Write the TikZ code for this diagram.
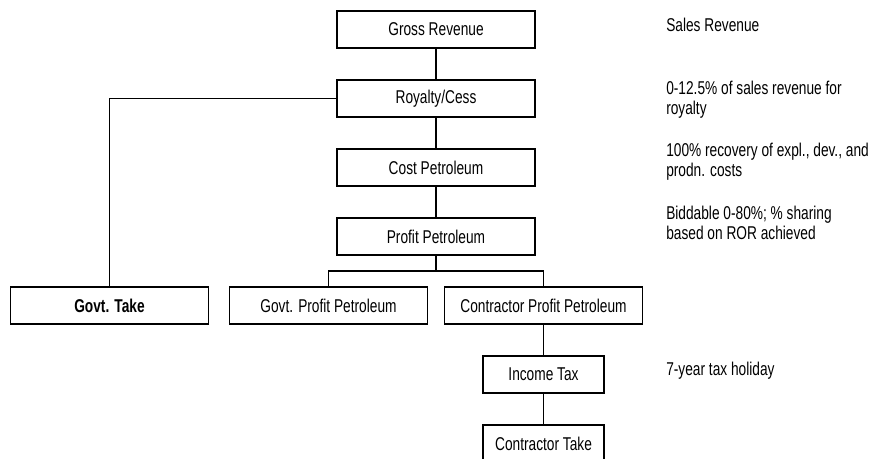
\documentclass[tikz,border=0pt]{standalone}
\usepackage{fontspec}
\setmainfont{Liberation Sans}[FakeStretch=0.74]
\tikzset{
  box/.style = {draw, line width = 1.1pt, minimum width = 148.5pt, minimum height = 27.75pt, inner sep = 0pt},
  smallbox/.style = {box, minimum width = 90.75pt},
  link/.style = {line width = .9pt},
  note/.style = {anchor = base west, align = left, inner sep = 0pt}
}
\begin{document}
\begin{tikzpicture}[x = .75pt, y = -.75pt, font = \fontsize{13.9}{15}\selectfont]
      \useasboundingbox (0,0) rectangle (870,459);
      \node [box] (gross) at (436,29.5) {Gross Revenue};
      \node [box] (royalty) at (436,98.5) {Royalty/Cess};
      \node [box] (cost) at (436,167.5) {Cost Petroleum};
      \node [box] (profit) at (436,236.5) {Profit Petroleum};
      \node [box] (govtake) at (109.5,305.5) {\bfseries Govt. Take};
      \node [box] (govprofit) at (328.5,305.5) {Govt. Profit Petroleum};
      \node [box] (conprofit) at (543.5,305.5) {Contractor Profit Petroleum};
      \node [smallbox] (tax) at (543.5,374.5) {Income Tax};
      \node [smallbox] (contake) at (543.5,443.5) {Contractor Take};
      \coordinate (split) at (436,271);
      \draw [link] (gross) -- (royalty);
      \draw [link] (royalty) -- (cost);
      \draw [link] (cost) -- (profit);
      \draw [link] (royalty.west) -| (govtake.north);
      \draw [link] (profit) -- (split);
      \draw [link] (govprofit.north) |- (split) -| (conprofit.north);
      \draw [link] (conprofit) -- (tax);
      \draw [link] (tax) -- (contake);
      % notes on the right, base = last line
      \node [note] (n1) at (666,31.7) {Sales Revenue};
      \node [note] (n2) at (666,115) {0-12.5\% of sales revenue for\\royalty};
      \node [note] (n3) at (666,177) {100\% recovery of expl., dev., and\\prodn. costs};
      \node [note] (n4) at (666,239.3) {Biddable 0-80\%; \% sharing\\based on ROR achieved};
      \node [note] (n5) at (666,375) {7-year tax holiday};
    \end{tikzpicture}
\end{document}
